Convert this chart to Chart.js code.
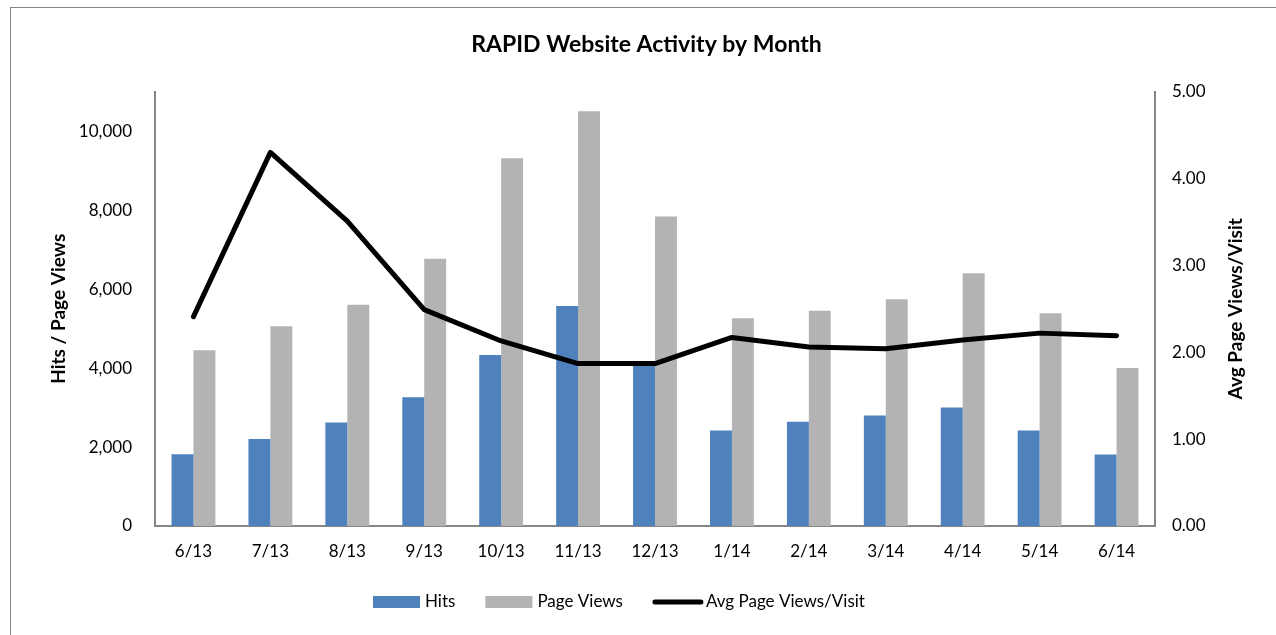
<!DOCTYPE html>
<html>
<head>
<meta charset="utf-8">
<script src="https://cdn.jsdelivr.net/npm/chart.js@4.4.0/dist/chart.umd.min.js"></script>
<style>
  html, body { margin: 0; padding: 0; background: #fff; }
  #frame { position: absolute; left: 10px; top: 7px; width: 1300px; height: 700px; border: 1px solid #868686; }
  #wrap { position: absolute; left: 0; top: 0; width: 1276px; height: 635px; }
</style>
</head>
<body>
<div id="frame"></div>
<div id="wrap"><canvas id="chart" width="1276" height="635"></canvas></div>
<script>
// Місяці (категорії)
const months = ['6/13', '7/13', '8/13', '9/13', '10/13', '11/13', '12/13', '1/14', '2/14', '3/14', '4/14', '5/14', '6/14'];
// Значення серій
const hits = [1820, 2200, 2620, 3260, 4330, 5570, 4130, 2420, 2640, 2800, 3000, 2420, 1810];
const pageViews = [4450, 5060, 5600, 6770, 9310, 10500, 7840, 5260, 5450, 5740, 6400, 5390, 4000];
const avgViews = [2.41, 4.30, 3.51, 2.49, 2.13, 1.87, 1.87, 2.17, 2.06, 2.04, 2.14, 2.22, 2.19];
// Мітки осей
const leftTicks = [0, 2000, 4000, 6000, 8000, 10000];
const rightTicks = [0, 1, 2, 3, 4, 5];

const FONT = 'Lato';
const axisColor = '#868686';

// Заголовки осей (знизу вгору) та легенда внизу
const extras = {
    id: 'extras',
    afterDraw(chart) {
        const c = chart.ctx;
        const area = chart.chartArea;
        const midY = (area.top + area.bottom) / 2;
        const vTitle = (text, x) => {
            c.save();
            c.fillStyle = '#000';
            c.font = 'bold 19px ' + FONT;
            c.textAlign = 'center';
            c.textBaseline = 'middle';
            c.translate(x, midY);
            c.rotate(-Math.PI / 2);
            c.fillText(text, 0, 0);
            c.restore();
        };
        vTitle('Hits / Page Views', 59);
        vTitle('Avg Page Views/Visit', 1236);

        // легенда
        c.save();
        c.font = '17px ' + FONT;
        c.textBaseline = 'middle';
        c.textAlign = 'left';
        const y = 602;
        let x = 373;
        chart.data.datasets.forEach((ds) => {
            if (ds.type === 'line') {
                c.strokeStyle = ds.borderColor;
                c.lineWidth = 5;
                c.lineCap = 'round';
                c.beginPath();
                c.moveTo(x + 2, y);
                c.lineTo(x + 48, y);
                c.stroke();
                x += 53;
            } else {
                c.fillStyle = ds.backgroundColor;
                c.fillRect(x, y - 6, 47, 12);
                x += 52;
            }
            c.fillStyle = '#000';
            c.fillText(ds.label, x, y);
            x += c.measureText(ds.label).width + 30;
        });
        c.restore();
    }
};

const ctx = document.getElementById('chart').getContext('2d');

new Chart(ctx, {
    type: 'bar',
    data: {
        labels: months,
        datasets: [{
            label: 'Hits',
            data: hits,
            backgroundColor: '#4F81BD',
            borderWidth: 0,
            yAxisID: 'y',
            order: 1
        }, {
            label: 'Page Views',
            data: pageViews,
            backgroundColor: '#B3B3B3',
            borderWidth: 0,
            yAxisID: 'y',
            order: 1
        }, {
            type: 'line',
            label: 'Avg Page Views/Visit',
            data: avgViews,
            borderColor: '#000',
            backgroundColor: '#000',
            borderWidth: 5,
            borderCapStyle: 'round',
            borderJoinStyle: 'round',
            pointRadius: 0,
            tension: 0,
            fill: false,
            yAxisID: 'y1',
            order: 0
        }]
    },
    plugins: [extras],
    options: {
        responsive: false,
        animation: false,
        layout: { padding: { top: 2, left: 47, right: 30, bottom: 61 } },
        datasets: {
            bar: { categoryPercentage: 0.57, barPercentage: 1 }
        },
        plugins: {
            title: {
                display: true,
                text: 'RAPID Website Activity by Month',
                color: '#000',
                font: { family: FONT, size: 23, weight: 'bold' },
                padding: { top: 29, bottom: 33 }
            },
            legend: { display: false },
            tooltip: { enabled: false }
        },
        scales: {
            x: {
                grid: { display: false, drawTicks: false },
                border: { color: axisColor, width: 2 },
                ticks: { color: '#000', font: { family: FONT, size: 17 }, padding: 15, maxRotation: 0 },
                afterFit: (s) => { s.height = 48; }
            },
            y: {
                position: 'left',
                min: 0,
                max: 11000,
                afterBuildTicks: (s) => { s.ticks = leftTicks.map(v => ({ value: v })); },
                grid: { display: false, drawTicks: false },
                border: { color: axisColor, width: 2 },
                ticks: {
                    color: '#000',
                    font: { family: FONT, size: 17 },
                    padding: 23,
                    callback: (v) => v.toLocaleString('en-US')
                },
                afterFit: (s) => { s.width = 108; }
            },
            y1: {
                position: 'right',
                min: 0,
                max: 5,
                afterBuildTicks: (s) => { s.ticks = rightTicks.map(v => ({ value: v })); },
                grid: { display: false, drawTicks: false },
                border: { color: axisColor, width: 2 },
                ticks: {
                    color: '#000',
                    font: { family: FONT, size: 17 },
                    padding: 17,
                    callback: (v) => v.toFixed(2)
                },
                afterFit: (s) => { s.width = 91; }
            }
        }
    }
});
</script>
</body>
</html>
